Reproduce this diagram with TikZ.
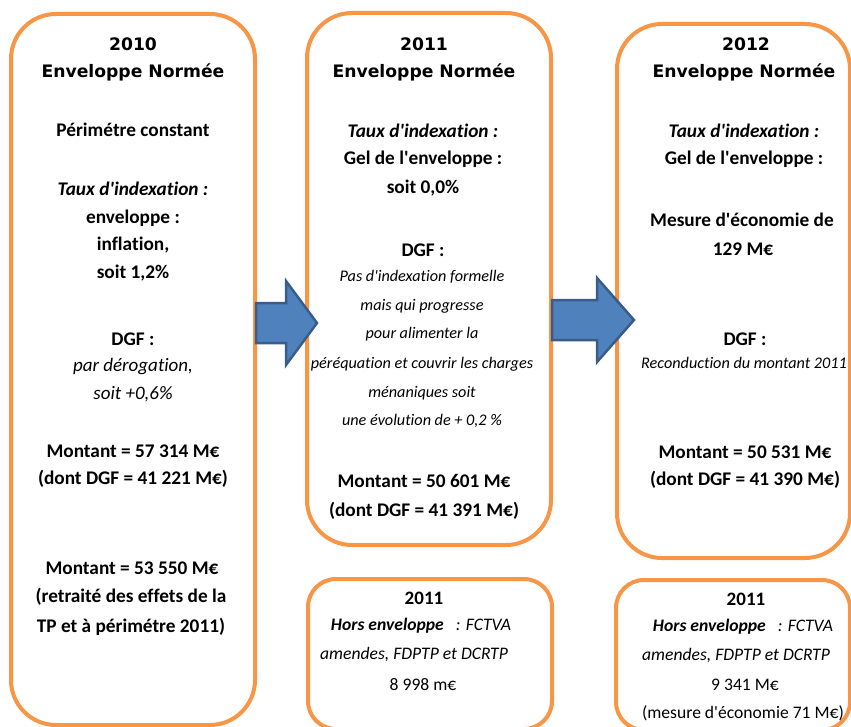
\documentclass[tikz,border=0pt]{standalone}
\usepackage{fontspec}
\setmainfont{Carlito}[Ligatures=NoCommon]
\newfontfamily\headfont{DejaVu Sans}
\usetikzlibrary{positioning}

\definecolor{boxorange}{HTML}{F79646}
\definecolor{arrowfill}{HTML}{4F81BD}
\definecolor{arrowline}{HTML}{385D8A}
\newcommand{\ap}{\textquotesingle}

\begin{document}
\begin{tikzpicture}[
  x=1pt, y=-1pt,
  yearbox/.style={draw=boxorange, line width=4pt, rounded corners=45pt, inner sep=0pt, fill=white},
  horsbox/.style={draw=boxorange, line width=4pt, rounded corners=28pt, inner sep=0pt, fill=white},
  headtxt/.style={inner sep=0pt, font=\headfont\bfseries\fontsize{17.2}{20}\selectfont},
  boldtxt/.style={inner sep=0pt, font=\bfseries\fontsize{19.3}{22}\selectfont},
  itxt/.style={inner sep=0pt, font=\itshape\fontsize{19}{22}\selectfont},
  smalltxt/.style={inner sep=0pt, font=\itshape\fontsize{16.2}{19}\selectfont},
  horstxt/.style={inner sep=0pt, font=\fontsize{17.6}{20}\selectfont},
  bigarrow/.style={draw=arrowline, fill=arrowfill, line width=2.5pt, line join=miter}
]
\useasboundingbox (0,0) rectangle (851,727);

% the boxes
\node[yearbox, minimum width=244pt, minimum height=711pt] (box10) at (133,369.5) {};
\node[yearbox, minimum width=244pt, minimum height=532pt] (box11) at (429,279) {};
\node[yearbox, minimum width=233pt, minimum height=534pt] (box12) at (733.5,291) {};
\node[horsbox, minimum width=244pt, minimum height=150pt] (hors11) at (430,654) {};
\node[horsbox, minimum width=234pt, minimum height=150pt] (hors12) at (733,655) {};

% 2010
\node[headtxt] (y10) at (133,44) {2010};
\node[headtxt] (n10) at (133,72) {Enveloppe Normée};
\node[boldtxt] (p10) at (133,130) {Périmétre constant};
\node[boldtxt] (t10) at (133,189) {\itshape Taux d\ap indexation :};
\node[boldtxt] (e10) at (133,218) {enveloppe :};
\node[boldtxt] (i10) at (133,245) {inflation,};
\node[boldtxt] (s10) at (133,273) {soit 1,2\%};
\node[boldtxt] (d10) at (133,339) {DGF :};
\node[itxt] (g10) at (133,367) {par dérogation,};
\node[itxt] (h10) at (133,394) {soit +0,6\%};
\node[boldtxt] (m10) at (133,451) {Montant = 57 314 M€};
\node[boldtxt] (k10) at (133,479) {(dont DGF = 41 221 M€)};
\node[boldtxt] (r10) at (132,568) {Montant = 53 550 M€};
\node[boldtxt] (q10) at (131,597) {(retraité des effets de la};
\node[boldtxt] (w10) at (131,627) {TP et à périmétre 2011)};

% 2011
\node[headtxt] (y11) at (424,44) {2011};
\node[headtxt] (n11) at (424,72) {Enveloppe Normée};
\node[boldtxt] (t11) at (423,131) {\itshape Taux d\ap indexation :};
\node[boldtxt] (e11) at (423,159) {Gel de l\ap enveloppe :};
\node[boldtxt] (s11) at (423,188) {soit 0,0\%};
\node[boldtxt] (d11) at (423,250) {DGF :};
\node[smalltxt] (a11) at (422,277) {Pas d\ap indexation formelle};
\node[smalltxt] (b11) at (422,306) {mais qui progresse};
\node[smalltxt] (c11) at (422,334) {pour alimenter la};
\node[smalltxt] (f11) at (422,364) {péréquation et couvrir les charges};
\node[smalltxt] (g11) at (422,393) {ménaniques soit};
\node[smalltxt] (h11) at (422,421) {une évolution de + 0,2 \%};
\node[boldtxt] (m11) at (424,481) {Montant = 50 601 M€};
\node[boldtxt] (k11) at (424,511) {(dont DGF = 41 391 M€)};

% 2012
\node[headtxt] (y12) at (746,44) {2012};
\node[headtxt] (n12) at (744,72) {Enveloppe Normée};
\node[boldtxt] (t12) at (744,131) {\itshape Taux d\ap indexation :};
\node[boldtxt] (e12) at (744,159) {Gel de l\ap enveloppe :};
\node[boldtxt] (x12) at (742,220) {Mesure d\ap économie de};
\node[boldtxt] (z12) at (743,249) {129 M€};
\node[boldtxt] (d12) at (745,339) {DGF :};
\node[smalltxt] (a12) at (744,363) {Reconduction du montant 2011};
\node[boldtxt] (m12) at (745,452) {Montant = 50 531 M€};
\node[boldtxt] (k12) at (745,480) {(dont DGF = 41 390 M€)};

% hors enveloppe
\node[horstxt] (hy11) at (424,598) {\bfseries\fontsize{19}{22}\selectfont 2011};
\node[horstxt] (ha11) at (421,626) {\itshape\bfseries Hors enveloppe\mdseries\ \ \ : FCTVA};
\node[horstxt] (hb11) at (414,655) {\itshape amendes, FDPTP et DCRTP};
\node[horstxt] (hc11) at (423,685) {8 998 m€};
\node[horstxt] (hy12) at (746,599) {\bfseries\fontsize{19}{22}\selectfont 2011};
\node[horstxt] (ha12) at (743,627) {\itshape\bfseries Hors enveloppe\mdseries\ \ \ : FCTVA};
\node[horstxt] (hb12) at (736,656) {\itshape amendes, FDPTP et DCRTP};
\node[horstxt] (hc12) at (745,685) {9 341 M€};
\node[horstxt] (hd12) at (743,713) {(mesure d\ap économie 71 M€)};

% arrows
\draw[bigarrow] (256,303) -- (286,303) -- (286,281) -- (317,323) -- (286,365) -- (286,343) -- (256,343) -- cycle;
\draw[bigarrow] (552,300) -- (597,300) -- (597,278) -- (634,320) -- (597,362) -- (597,340) -- (552,340) -- cycle;

\end{tikzpicture}
\end{document}
